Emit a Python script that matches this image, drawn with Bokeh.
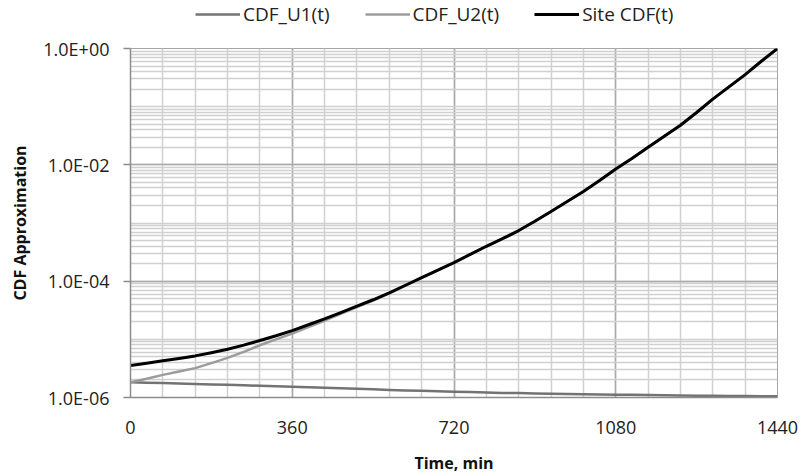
from bokeh.plotting import figure
from bokeh.layouts import column
from bokeh.models import FixedTicker, CustomJSTickFormatter, Legend, LegendItem, Range1d
from bokeh.embed import file_html
from bokeh.resources import INLINE

# ---- data ----
t_min = [0, 36, 72, 108, 144, 180, 216, 252, 288, 324, 360, 396, 432, 468,
         504, 540, 576, 612, 648, 684, 720, 756, 792, 828, 864, 900, 936,
         972, 1008, 1044, 1080, 1116, 1152, 1188, 1224, 1260, 1296, 1332,
         1368, 1404, 1440]
cdf_u1 = [1.83e-6, 1.80e-6, 1.77e-6, 1.74e-6, 1.71e-6, 1.68e-6, 1.65e-6,
          1.62e-6, 1.59e-6, 1.56e-6, 1.53e-6, 1.50e-6, 1.47e-6, 1.44e-6,
          1.41e-6, 1.38e-6, 1.35e-6, 1.32e-6, 1.30e-6, 1.28e-6, 1.26e-6,
          1.24e-6, 1.22e-6, 1.20e-6, 1.19e-6, 1.17e-6, 1.16e-6, 1.15e-6,
          1.14e-6, 1.13e-6, 1.12e-6, 1.11e-6, 1.10e-6, 1.09e-6, 1.08e-6,
          1.075e-6, 1.07e-6, 1.065e-6, 1.06e-6, 1.055e-6, 1.05e-6]
cdf_u2 = [1.83e-6, 2.10e-6, 2.45e-6, 2.80e-6, 3.20e-6, 3.90e-6, 4.80e-6,
          6.10e-6, 7.90e-6, 1.00e-5, 1.26e-5, 1.63e-5, 2.09e-5, 2.73e-5,
          3.58e-5, 4.65e-5, 6.17e-5, 8.37e-5, 1.14e-4, 1.54e-4, 2.08e-4,
          2.87e-4, 3.97e-4, 5.36e-4, 7.40e-4, 1.07e-3, 1.58e-3, 2.34e-3,
          3.47e-3, 5.37e-3, 8.51e-3, 1.29e-2, 2.00e-2, 3.09e-2, 4.79e-2,
          7.94e-2, 1.35e-1, 2.19e-1, 3.55e-1, 6.03e-1, 1.0]
site_cdf = [3.55e-6, 3.89e-6, 4.27e-6, 4.68e-6, 5.19e-6, 5.89e-6, 6.76e-6,
            7.94e-6, 9.55e-6, 1.15e-5, 1.41e-5, 1.78e-5, 2.24e-5, 2.88e-5,
            3.72e-5, 4.79e-5, 6.31e-5, 8.51e-5, 1.15e-4, 1.55e-4, 2.09e-4,
            2.88e-4, 3.98e-4, 5.37e-4, 7.41e-4, 1.07e-3, 1.58e-3, 2.34e-3,
            3.47e-3, 5.37e-3, 8.51e-3, 1.29e-2, 2.00e-2, 3.09e-2, 4.79e-2,
            7.94e-2, 1.35e-1, 2.19e-1, 3.55e-1, 6.03e-1, 1.0]

x_ticks = [0, 360, 720, 1080, 1440]
x_minor = list(range(0, 1441, 72))
y_exponents = [-6, -4, -2, 0]
y_tick_labels = ["1.0E-06", "1.0E-04", "1.0E-02", "1.0E+00"]
series_names = ["CDF_U1(t)", "CDF_U2(t)", "Site CDF(t)"]
series_colors = ["#737373", "#9c9c9c", "#000000"]
series_widths = [2.5, 2.5, 3]

FONT = "Open Sans"
LEG_H = 30

p = figure(width=803, height=476 - LEG_H, output_backend="svg", toolbar_location=None,
           y_axis_type="log",
           x_range=Range1d(0, 1440), y_range=Range1d(1e-6, 1.0),
           min_border_left=130, min_border_right=26,
           min_border_top=48 - LEG_H, min_border_bottom=79)
p.outline_line_color = "#a6a6a6"
p.background_fill_color = "white"
p.border_fill_color = "white"

# grids / ticks
p.xaxis.ticker = FixedTicker(ticks=x_ticks, minor_ticks=x_minor)
y_major = [10.0 ** e for e in y_exponents]
y_minor = [k * 10.0 ** e for e in range(-6, 0) for k in range(1, 10)]
p.yaxis.ticker = FixedTicker(ticks=y_major, minor_ticks=y_minor)
p.yaxis.formatter = CustomJSTickFormatter(
    args=dict(exps=y_exponents, labels=y_tick_labels),
    code="""
    const e = Math.round(Math.log10(tick));
    const i = exps.indexOf(e);
    return i >= 0 ? labels[i] : "";
""")

for g in (p.xgrid, p.ygrid):
    g.grid_line_color = "#a9a9a9"
    g.grid_line_width = 1.5
    g.minor_grid_line_color = "#d0d0d0"
    g.minor_grid_line_width = 1.5

for ax in (p.xaxis, p.yaxis):
    ax.axis_line_color = "#8c8c8c"
    ax.axis_line_width = 1.5
    ax.major_tick_line_color = "#8c8c8c"
    ax.major_tick_line_width = 1.5
    ax.minor_tick_out = 0
    ax.minor_tick_in = 0
    ax.major_tick_in = 0
    ax.major_label_text_font = FONT
    ax.major_label_text_font_size = "18px"
    ax.major_label_text_color = "#222222"
    ax.axis_label_text_font = FONT
    ax.axis_label_text_font_style = "bold"
    ax.axis_label_text_font_size = "16px"
    ax.axis_label_text_color = "#111111"

p.xaxis.major_tick_out = 0
p.xaxis.major_label_standoff = 23
p.xaxis.axis_label = "Time, min"
p.xaxis.axis_label_standoff = 15
p.yaxis.major_tick_out = 7
p.yaxis.major_label_standoff = 14
p.yaxis.axis_label = "CDF Approximation"
p.yaxis.axis_label_standoff = 9

series = [cdf_u1, cdf_u2, site_cdf]
for ys, c, w in zip(series, series_colors, series_widths):
    p.line(t_min, ys, line_color=c, line_width=w, line_join="round")

# ---- legend strip on top (its own view range keeps the series out of sight) ----
lg = figure(width=803, height=LEG_H, output_backend="svg", toolbar_location=None,
            x_range=Range1d(-20, -10), y_range=Range1d(0, 1),
            min_border_left=0, min_border_right=0, min_border_top=0,
            min_border_bottom=0)
lg.axis.visible = False
lg.grid.visible = False
lg.outline_line_color = None
lg.background_fill_color = "white"
lg.border_fill_color = "white"
items = []
for name, ys, c, w in zip(series_names, series, series_colors, series_widths):
    r = lg.line(t_min, ys, line_color=c, line_width=w)
    items.append(LegendItem(label=name, renderers=[r]))
legend = Legend(items=items, orientation="horizontal", location=(65, 3),
                border_line_color=None, background_fill_alpha=0,
                padding=0, margin=0, spacing=35,
                glyph_width=45, glyph_height=20, label_height=20,
                label_standoff=3,
                label_text_font=FONT, label_text_font_size="19px",
                label_text_color="#222222")
lg.add_layout(legend, "center")

layout = column(lg, p, spacing=0)
open("out.html", "w").write(file_html(layout, INLINE))
